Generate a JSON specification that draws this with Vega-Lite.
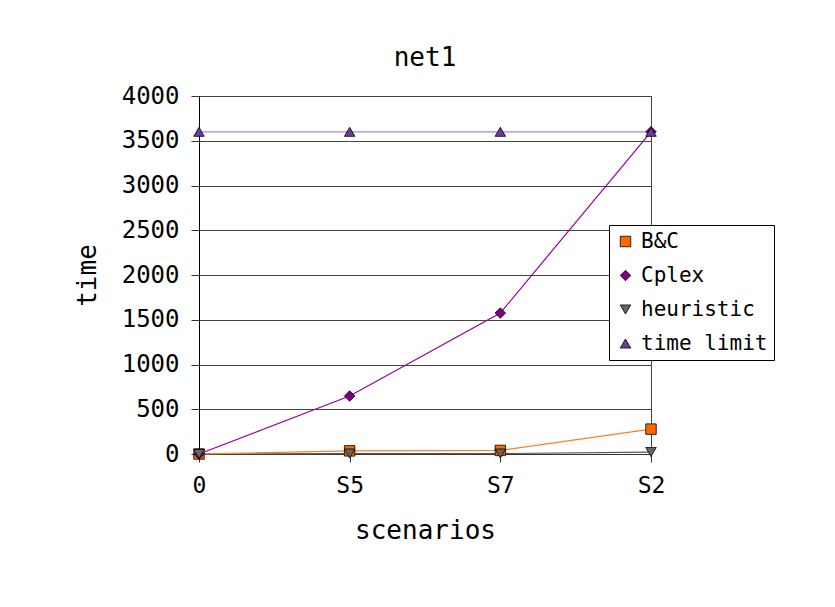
{
  "$schema": "https://vega.github.io/schema/vega-lite/v6.json",
  "width": 452,
  "height": 358,
  "autosize": {"type": "none"},
  "padding": {"left": 199, "top": 96, "right": 184, "bottom": 153},
  "background": "white",
  "config": {
    "font": "DejaVu Sans Mono",
    "view": {"stroke": "#444", "strokeWidth": 1},
    "axis": {"labelFont": "DejaVu Sans Mono", "titleFont": "DejaVu Sans Mono", "labelColor": "black", "titleColor": "black", "titleFontWeight": "normal"},
    "legend": {
      "orient": "none", "legendX": 410, "legendY": 129,
      "strokeColor": "black", "fillColor": "white", "padding": 6,
      "labelFontSize": 21, "labelFont": "DejaVu Sans Mono", "labelColor": "black",
      "symbolSize": 110, "symbolStrokeColor": "black", "symbolStrokeWidth": 0.8,
      "rowPadding": 12, "labelOffset": 5
    }
  },
  "title": {"text": "net1", "fontSize": 26, "fontWeight": "normal", "font": "DejaVu Sans Mono", "color": "black", "offset": 13},
  "data": {
    "values": [
      {"series": "B&C", "scenario": "0", "time": 0},
      {"series": "B&C", "scenario": "S5", "time": 35},
      {"series": "B&C", "scenario": "S7", "time": 40},
      {"series": "B&C", "scenario": "S2", "time": 278},
      {"series": "Cplex", "scenario": "0", "time": 0},
      {"series": "Cplex", "scenario": "S5", "time": 648},
      {"series": "Cplex", "scenario": "S7", "time": 1575},
      {"series": "Cplex", "scenario": "S2", "time": 3600},
      {"series": "heuristic", "scenario": "0", "time": 0},
      {"series": "heuristic", "scenario": "S5", "time": 5},
      {"series": "heuristic", "scenario": "S7", "time": 5},
      {"series": "heuristic", "scenario": "S2", "time": 22},
      {"series": "time limit", "scenario": "0", "time": 3600},
      {"series": "time limit", "scenario": "S5", "time": 3600},
      {"series": "time limit", "scenario": "S7", "time": 3600},
      {"series": "time limit", "scenario": "S2", "time": 3600}
    ]
  },
  "encoding": {
    "x": {
      "field": "scenario", "type": "ordinal",
      "sort": ["0", "S5", "S7", "S2"],
      "scale": {"type": "point", "padding": 0},
      "axis": {"title": "scenarios", "titleFontSize": 26, "labelFontSize": 23, "labelAngle": 0, "labelPadding": 12, "titlePadding": 20, "tickSize": 8, "tickColor": "#333", "domainColor": "#333", "grid": false}
    },
    "y": {
      "field": "time", "type": "quantitative",
      "scale": {"domain": [0, 4000], "nice": false},
      "axis": {"title": "time", "titleFontSize": 26, "labelFontSize": 24, "format": "d", "values": [0, 500, 1000, 1500, 2000, 2500, 3000, 3500, 4000], "labelPadding": 12, "titlePadding": 21, "tickSize": 8, "tickColor": "#333", "domainColor": "black", "grid": true, "gridColor": "#444", "gridOpacity": 1, "labelFlush": false}
    }
  },
  "layer": [
    {"transform": [{"filter": "datum.series === 'time limit'"}], "mark": {"type": "line", "strokeWidth": 1.2, "color": "#a88ccc"}, "encoding": {}},
    {"transform": [{"filter": "datum.series === 'heuristic'"}], "mark": {"type": "line", "strokeWidth": 1.2, "color": "#555555"}, "encoding": {}},
    {"transform": [{"filter": "datum.series === 'B&C'"}], "mark": {"type": "line", "strokeWidth": 1.2, "color": "#ff7f27"}, "encoding": {}},
    {"transform": [{"filter": "datum.series === 'Cplex'"}], "mark": {"type": "line", "strokeWidth": 1.2, "color": "#990099"}, "encoding": {}},
    {
      "mark": {"type": "point", "filled": true, "stroke": "black", "strokeWidth": 0.8, "opacity": 1, "size": 110},
      "encoding": {
        "color": {
          "field": "series", "type": "nominal",
          "scale": {"domain": ["B&C", "Cplex", "heuristic", "time limit"], "range": ["#ff6600", "#800080", "#666666", "#6a3d9a"]},
          "legend": {"title": null}
        },
        "shape": {
          "field": "series", "type": "nominal",
          "scale": {"domain": ["B&C", "Cplex", "heuristic", "time limit"], "range": ["square", "diamond", "triangle-down", "triangle-up"]},
          "legend": {"title": null}
        }
      }
    }
  ]
}
